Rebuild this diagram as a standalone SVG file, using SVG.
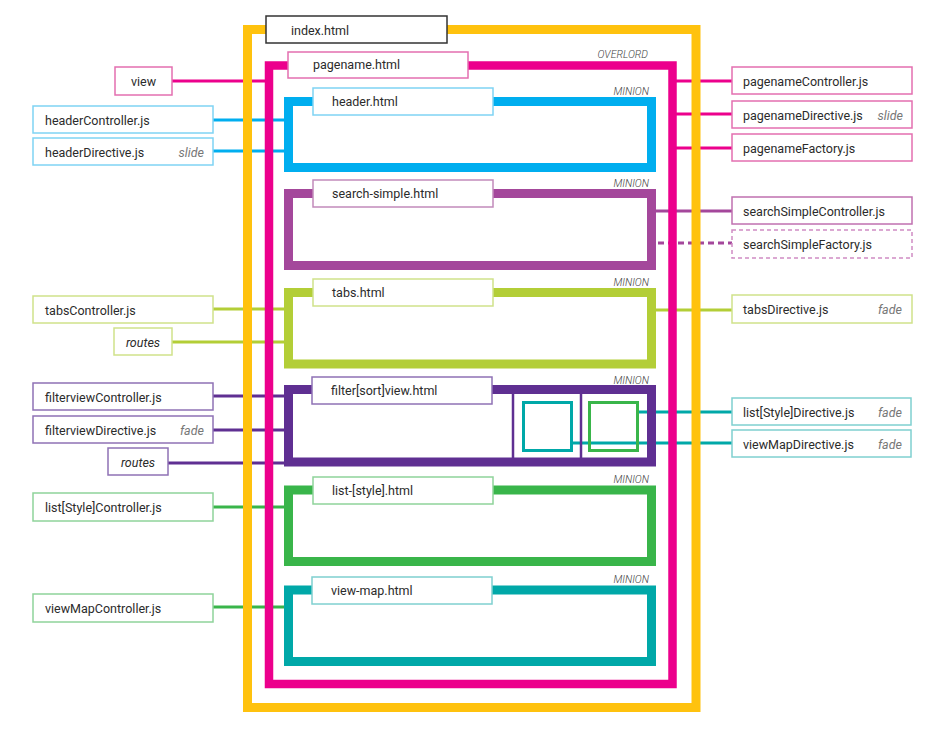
<svg xmlns="http://www.w3.org/2000/svg" width="948" height="739" viewBox="0 0 948 739">
<style>
text{font-family:Roboto,"Liberation Sans",sans-serif;font-size:12.5px;fill:#2b2b2b}
.it{font-style:italic;fill:#777}
.tag{font-style:italic;font-size:10.5px;font-weight:300;fill:#444;text-anchor:end}
.rt{font-style:italic;fill:#2b2b2b;text-anchor:middle}
.box{fill:#fff;stroke-width:1.5}
.frame{fill:none}
.c{fill:none;stroke-width:3}
</style>
<rect width="948" height="739" fill="#fff"/>
<g id="connectors">
<line class="c" x1="172" y1="81" x2="269" y2="81" stroke="#EC008C"/>
<line class="c" x1="213" y1="120" x2="288" y2="120" stroke="#00AEEF"/>
<line class="c" x1="213" y1="151" x2="288" y2="151" stroke="#00AEEF"/>
<line class="c" x1="213" y1="309" x2="288" y2="309" stroke="#B3CE37"/>
<line class="c" x1="172" y1="342" x2="288" y2="342" stroke="#B3CE37"/>
<line class="c" x1="213" y1="396" x2="288" y2="396" stroke="#5F2F92"/>
<line class="c" x1="213" y1="430" x2="288" y2="430" stroke="#5F2F92"/>
<line class="c" x1="168" y1="463" x2="288" y2="463" stroke="#5F2F92"/>
<line class="c" x1="213" y1="507" x2="288" y2="507" stroke="#39B54A"/>
<line class="c" x1="213" y1="607" x2="288" y2="607" stroke="#39B54A"/>
<line class="c" x1="672" y1="81" x2="732" y2="81" stroke="#EC008C"/>
<line class="c" x1="672" y1="114" x2="732" y2="114" stroke="#EC008C"/>
<line class="c" x1="672" y1="148" x2="732" y2="148" stroke="#EC008C"/>
<line class="c" x1="651" y1="211" x2="732" y2="211" stroke="#A4479B"/>
<line class="c" x1="658" y1="243" x2="732" y2="243" stroke="#A4479B" stroke-dasharray="6 4"/>
<line class="c" x1="651" y1="310" x2="732" y2="310" stroke="#B3CE37"/>
<line class="c" x1="638" y1="412" x2="732" y2="412" stroke="#00A8A8"/>
<line class="c" x1="572" y1="443" x2="732" y2="443" stroke="#00A8A8"/>
</g>
<g id="index">
<rect class="frame" x="247.5" y="29.5" width="448.5" height="678" stroke="#FFC20E" stroke-width="9"/>
<rect class="box" x="266" y="16" width="181" height="27" stroke="#333"/>
<text x="291" y="35">index.html</text>
</g>
<g id="pagename">
<rect class="frame" x="269" y="65.5" width="403.5" height="618.5" stroke="#EC008C" stroke-width="8.5"/>
<rect class="box" x="288" y="52" width="180" height="26" stroke="#E36FB0"/>
<text x="313" y="69">pagename.html</text>
<text class="tag" x="648" y="58">OVERLORD</text>
</g>
<g id="header">
<rect class="frame" x="288.5" y="101.5" width="363" height="66" stroke="#00AEEF" stroke-width="9"/>
<rect class="box" x="313" y="88" width="180" height="27" stroke="#7FD3F4"/>
<text x="332" y="105.5">header.html</text>
<text class="tag" x="649" y="94.5">MINION</text>
</g>
<g id="search-simple">
<rect class="frame" x="288.5" y="193.5" width="363" height="72" stroke="#A4479B" stroke-width="9"/>
<rect class="box" x="313" y="180" width="180" height="27" stroke="#C28ABB"/>
<text x="332" y="197.5">search-simple.html</text>
<text class="tag" x="649" y="186.5">MINION</text>
</g>
<g id="tabs">
<rect class="frame" x="288.5" y="292.5" width="363" height="71.5" stroke="#B3CE37" stroke-width="9"/>
<rect class="box" x="313" y="279" width="180" height="27" stroke="#D0E28A"/>
<text x="332" y="296.5">tabs.html</text>
<text class="tag" x="649" y="285.5">MINION</text>
</g>
<g id="filterview">
<rect class="frame" x="288.5" y="389.5" width="363" height="72.5" stroke="#5F2F92" stroke-width="9"/>
<line x1="513" y1="394" x2="513" y2="458" stroke="#5F2F92" stroke-width="2.5"/>
<line x1="581" y1="394" x2="581" y2="458" stroke="#5F2F92" stroke-width="2.5"/>
<rect class="frame" x="523.5" y="402.5" width="48" height="48" stroke="#00A8A8" stroke-width="3"/>
<rect class="frame" x="589.5" y="402.5" width="48" height="48" stroke="#39B54A" stroke-width="3"/>
<rect class="box" x="312" y="377" width="180" height="27" stroke="#8F72B5"/>
<text x="331" y="394.5">filter[sort]view.html</text>
<text class="tag" x="649" y="383.5">MINION</text>
</g>
<g id="list-style">
<rect class="frame" x="288.5" y="490" width="363" height="71.5" stroke="#39B54A" stroke-width="9"/>
<rect class="box" x="313" y="477" width="180" height="27" stroke="#8FD39A"/>
<text x="332" y="494.5">list-[style].html</text>
<text class="tag" x="649" y="482.5">MINION</text>
</g>
<g id="view-map">
<rect class="frame" x="288.5" y="590" width="363" height="71.5" stroke="#00A8A8" stroke-width="9"/>
<rect class="box" x="312" y="577" width="180" height="27" stroke="#7FD0D0"/>
<text x="331" y="594.5">view-map.html</text>
<text class="tag" x="649" y="582.5">MINION</text>
</g>
<g id="view">
<rect class="box" x="115" y="67" width="57" height="28" stroke="#E36FB0"/>
<text x="143.5" y="86" text-anchor="middle">view</text>
</g>
<g id="headerController">
<rect class="box" x="33" y="106" width="180" height="27" stroke="#7FD3F4"/>
<text x="45" y="125">headerController.js</text>
</g>
<g id="headerDirective">
<rect class="box" x="33" y="138" width="180" height="27" stroke="#7FD3F4"/>
<text x="45" y="157">headerDirective.js</text>
<text class="it" x="204" y="157" text-anchor="end">slide</text>
</g>
<g id="tabsController">
<rect class="box" x="33" y="296" width="180" height="27" stroke="#D0E28A"/>
<text x="45" y="315">tabsController.js</text>
</g>
<g id="routes-tabs">
<rect class="box" x="114" y="328" width="58" height="27" stroke="#D0E28A"/>
<text class="rt" x="143" y="347">routes</text>
</g>
<g id="filterviewController">
<rect class="box" x="33" y="383" width="180" height="27" stroke="#8F72B5"/>
<text x="45" y="402">filterviewController.js</text>
</g>
<g id="filterviewDirective">
<rect class="box" x="33" y="416" width="180" height="27" stroke="#8F72B5"/>
<text x="45" y="435">filterviewDirective.js</text>
<text class="it" x="204" y="435" text-anchor="end">fade</text>
</g>
<g id="routes-filter">
<rect class="box" x="108" y="448" width="60" height="27" stroke="#8F72B5"/>
<text class="rt" x="138" y="467">routes</text>
</g>
<g id="listStyleController">
<rect class="box" x="33" y="493" width="180" height="28" stroke="#8FD39A"/>
<text x="45" y="512">list[Style]Controller.js</text>
</g>
<g id="viewMapController">
<rect class="box" x="33" y="594" width="180" height="28" stroke="#8FD39A"/>
<text x="45" y="613">viewMapController.js</text>
</g>
<g id="pagenameController">
<rect class="box" x="732" y="67" width="180" height="27" stroke="#E36FB0"/>
<text x="743" y="86">pagenameController.js</text>
</g>
<g id="pagenameDirective">
<rect class="box" x="732" y="101" width="180" height="27" stroke="#E36FB0"/>
<text x="743" y="120">pagenameDirective.js</text>
<text class="it" x="903" y="120" text-anchor="end">slide</text>
</g>
<g id="pagenameFactory">
<rect class="box" x="732" y="134" width="180" height="27" stroke="#E36FB0"/>
<text x="743" y="153">pagenameFactory.js</text>
</g>
<g id="searchSimpleController">
<rect class="box" x="732" y="197" width="180" height="27" stroke="#C070B0"/>
<text x="743" y="216">searchSimpleController.js</text>
</g>
<g id="searchSimpleFactory">
<rect class="box" x="732" y="230" width="180" height="28" stroke="#D08CC4" stroke-dasharray="4 3"/>
<text x="743" y="249">searchSimpleFactory.js</text>
</g>
<g id="tabsDirective">
<rect class="box" x="732" y="295" width="180" height="28" stroke="#D0E28A"/>
<text x="743" y="314">tabsDirective.js</text>
<text class="it" x="902" y="314" text-anchor="end">fade</text>
</g>
<g id="listStyleDirective">
<rect class="box" x="732" y="398" width="179" height="27" stroke="#7FD0D0"/>
<text x="743" y="417">list[Style]Directive.js</text>
<text class="it" x="902" y="417" text-anchor="end">fade</text>
</g>
<g id="viewMapDirective">
<rect class="box" x="732" y="430" width="179" height="27" stroke="#7FD0D0"/>
<text x="743" y="449">viewMapDirective.js</text>
<text class="it" x="902" y="449" text-anchor="end">fade</text>
</g>
</svg>
